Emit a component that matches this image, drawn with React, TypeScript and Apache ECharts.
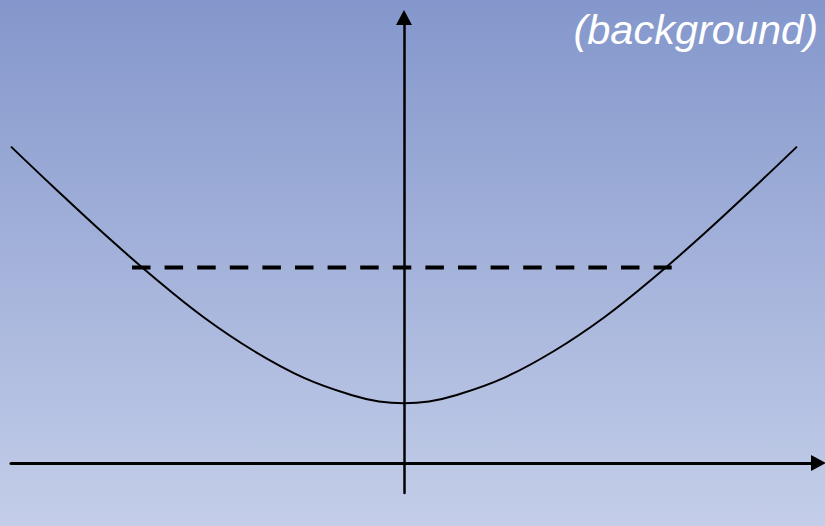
import React, { useEffect, useRef } from "react";
import * as echarts from "echarts";

// Curve samples (x relative to the vertical axis, y above the horizontal axis)
const curveX = [-3.93, -3.5, -3.0, -2.5, -2.0, -1.5, -1.0, -0.5, -0.25, 0, 0.25, 0.5, 1.0, 1.5, 2.0, 2.5, 3.0, 3.5, 3.93];
const curveY = [3.164, 2.755, 2.292, 1.855, 1.455, 1.12, 0.852, 0.672, 0.615, 0.597, 0.615, 0.672, 0.852, 1.12, 1.455, 1.855, 2.292, 2.755, 3.164];

// Dashed horizontal level
const levelX = [-2.72, 2.677];
const levelY = [1.955, 1.955];

const titleText = "(background)";

export default function App() {
  const ref = useRef<HTMLDivElement>(null);
  useEffect(() => {
    if (!ref.current) return;
    const chart = echarts.init(ref.current, undefined, { renderer: "svg" });
    chart.setOption({
      animation: false,
      backgroundColor: "transparent",
      grid: { left: 11, right: 6.5, top: 17.5, bottom: 33 },
      xAxis: {
        type: "value",
        min: -3.93,
        max: 4.145,
        axisLine: {
          onZero: true,
          lineStyle: { color: "#000", width: 3 },
          symbol: ["none", "triangle"],
          symbolSize: [16, 15],
        },
        axisTick: { show: false },
        axisLabel: { show: false },
        splitLine: { show: false },
      },
      yAxis: {
        type: "value",
        min: -0.3,
        max: 4.455,
        axisLine: {
          onZero: true,
          lineStyle: { color: "#000", width: 2.5 },
          symbol: ["none", "triangle"],
          symbolSize: [16, 15],
        },
        axisTick: { show: false },
        axisLabel: { show: false },
        splitLine: { show: false },
      },
      graphic: [
        {
          type: "text",
          x: 818,
          y: 29,
          style: {
            text: titleText,
            fill: "#ffffff",
            font: "italic 41.5px 'Liberation Sans', Arial, sans-serif",
            textAlign: "right",
            textVerticalAlign: "middle",
          },
        },
      ],
      series: [
        {
          type: "line",
          data: curveX.map((x, i) => [x, curveY[i]]),
          smooth: 0.4,
          showSymbol: false,
          lineStyle: { color: "#000", width: 2 },
        },
        {
          type: "line",
          data: levelX.map((x, i) => [x, levelY[i]]),
          showSymbol: false,
          lineStyle: { color: "#000", width: 4, type: [18.5, 14.1] },
        },
      ],
    });
    return () => chart.dispose();
  }, []);
  return (
    <div
      ref={ref}
      style={{
        position: "absolute",
        left: 0,
        top: 0,
        width: 825,
        height: 526,
        background: "linear-gradient(to bottom, #8497cc, #c4cee9)",
      }}
    />
  );
}
